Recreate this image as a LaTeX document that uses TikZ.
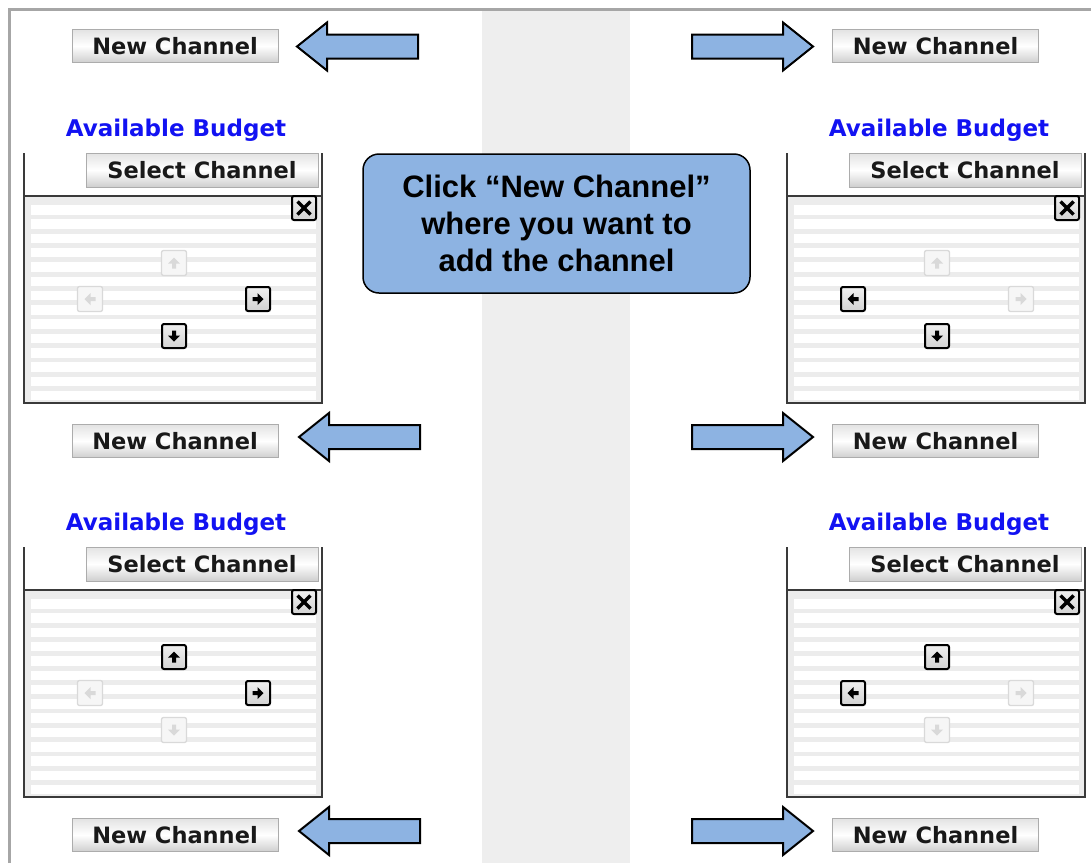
\documentclass[tikz,border=0pt]{standalone}
\usepackage{fontspec}
\setmainfont{DejaVu Sans}
\newfontfamily\calloutfont{Liberation Sans}

\definecolor{frameGray}{HTML}{A6A6A6}
\definecolor{bandGray}{HTML}{EEEEEE}
\definecolor{calloutBlue}{HTML}{8DB3E2}
\definecolor{budgetBlue}{HTML}{1212F2}
\definecolor{listGray}{HTML}{ECECEC}
\definecolor{panelLine}{HTML}{3A3A3A}

\tikzset{
  uibutton/.style={rectangle, draw=gray!65, line width=1pt,
    top color=gray!22, bottom color=gray!38, middle color=white,
    font=\bfseries\fontsize{22.5}{22.5}\selectfont, text=black!90, inner sep=0pt},
  newbtn/.style={uibutton, minimum width=206pt, minimum height=33pt},
  selectbtn/.style={uibutton, minimum width=232pt, minimum height=34pt},
  budgettitle/.style={font=\bfseries\fontsize{23}{23}\selectfont, text=budgetBlue, inner sep=0pt},
  panelline/.style={draw=panelLine, line width=1.8pt},
  navon/.style={rectangle, rounded corners=2pt, minimum size=24pt, inner sep=0pt,
    draw=black, line width=2pt, top color=gray!12, bottom color=gray!35},
  navoff/.style={rectangle, rounded corners=2pt, minimum size=25pt, inner sep=0pt,
    draw=gray!30, line width=1.3pt, fill=gray!7},
  glyphon/.style={fill=black},
  glyphoff/.style={fill=gray!30},
  closeglyph/.style={draw=black, line width=3.5pt},
  blockfill/.style={fill=calloutBlue, draw=black, line width=2pt, line join=miter},
  callout/.style={rectangle, rounded corners=16pt, draw=black, line width=1.5pt,
    fill=calloutBlue, minimum width=387pt, minimum height=139pt, align=center,
    font=\calloutfont\bfseries\fontsize{31}{37}\selectfont},
  blockarrow/.pic={
    \path[blockfill] (-121,-12) -- (-30,-12) -- (-30,-24) -- (0,0)
      -- (-30,24) -- (-30,12) -- (-121,12) -- cycle;}
}

% one navigation key: name, position, rotation, state (on/off)
\newcommand{\navkey}[4]{%
  \node[nav#4] (#1) at #2 {};
  \begin{scope}[shift={(#1.center)}, rotate=#3]
    \fill[glyph#4] (-6,0.5) -- (0,-5.5) -- (6,0.5) -- (2,0.5) -- (2,5.5) -- (-2,5.5) -- (-2,0.5) -- cycle;
  \end{scope}}

% a budget panel: name, x offset, y offset, states of up/left/right/down keys
\newcommand{\budgetpanel}[7]{%
  \begin{scope}[shift={(#2,#3)}]
    \node[budgettitle] (#1-title) at (176,130) {Available Budget};
    \node[selectbtn] (#1-select) at (202,170) {Select Channel};
    % striped list area
    \fill[listGray] (24,196) rectangle (322,403);
    \foreach \k in {0,...,13}
      \fill[white] (31,{205+14.3*\k}) rectangle (316,{214.5+14.3*\k});
    \draw[panelline] (24,153) -- (24,403) -- (322,403) -- (322,153);
    \draw[panelline] (24,196) -- (322,196);
    \node[navon] (#1-close) at (304,208) {};
    \draw[closeglyph] ([shift={(-6.5,-6.5)}]#1-close.center) -- ([shift={(6.5,6.5)}]#1-close.center);
    \draw[closeglyph] ([shift={(-6.5,6.5)}]#1-close.center) -- ([shift={(6.5,-6.5)}]#1-close.center);
    \navkey{#1-up}{(174,263)}{0}{#4}
    \navkey{#1-left}{(90,299)}{90}{#5}
    \navkey{#1-right}{(258,299)}{-90}{#6}
    \navkey{#1-down}{(174,336)}{180}{#7}
  \end{scope}}

\begin{document}
\begin{tikzpicture}[x=1pt, y=-1pt]
  \useasboundingbox (0,0) rectangle (1091,863);
  \fill[white] (0,0) rectangle (1091,863);
  % central shaded column and outer frame
  \fill[bandGray] (482,11) rectangle (630,863);
  \draw[frameGray, line width=3pt] (9.5,863) -- (9.5,9.5) -- (1091,9.5);

  % "New Channel" buttons
  \node[newbtn] (ncTL) at (175,46) {New Channel};
  \node[newbtn] (ncTR) at (935.5,46) {New Channel};
  \node[newbtn] (ncML) at (175,441) {New Channel};
  \node[newbtn] (ncMR) at (935.5,441) {New Channel};
  \node[newbtn] (ncBL) at (175,835) {New Channel};
  \node[newbtn] (ncBR) at (935.5,835) {New Channel};

  % block arrows pointing at the buttons
  \pic[xscale=-1] (arTL) at (297,46.5) {blockarrow};
  \pic (arTR) at (813,46.5) {blockarrow};
  \pic[xscale=-1] (arML) at (299,437) {blockarrow};
  \pic (arMR) at (813,437) {blockarrow};
  \pic[xscale=-1] (arBL) at (299,831) {blockarrow};
  \pic (arBR) at (813,831) {blockarrow};

  % four budget panels
  \budgetpanel{pTL}{0}{0}{off}{off}{on}{on}
  \budgetpanel{pTR}{763}{0}{off}{on}{off}{on}
  \budgetpanel{pBL}{0}{394}{on}{off}{on}{off}
  \budgetpanel{pBR}{763}{394}{on}{on}{off}{off}

  % instruction callout
  \node[callout] (hint) at (556.5,223.5) {Click “New Channel”\\where you want to\\add the channel};
\end{tikzpicture}
\end{document}
